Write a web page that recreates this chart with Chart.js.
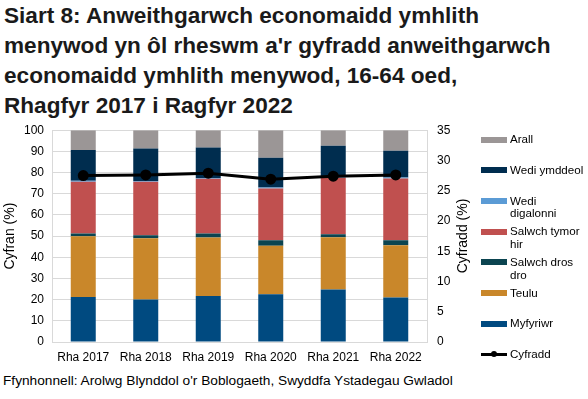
<!DOCTYPE html>
<html>
<head>
<meta charset="utf-8">
<script src="https://cdn.jsdelivr.net/npm/chart.js@4/dist/chart.umd.min.js"></script>
<style>
  html, body { margin:0; padding:0; background:#fff; }
  body { width:588px; height:399px; position:relative; overflow:hidden; font-family:"Liberation Sans", Arial, sans-serif; color:#000; }
  #title { position:absolute; left:4px; top:1px; width:600px; font-size:22.6px; font-weight:bold; line-height:30px; color:#1a1a1a; }
  #wrap { position:absolute; left:0; top:113px; width:480px; height:257px; }
  #source { position:absolute; left:3px; top:373px; font-size:13.7px; color:#000; white-space:nowrap; }
  #rtitle { position:absolute; left:462px; top:235.5px; transform:translate(-50%,-50%) rotate(-90deg); font-size:14px; white-space:nowrap; }
  #legend { position:absolute; left:480px; top:0; width:108px; }
  .lg { position:absolute; left:0; font-size:11.6px; line-height:12.5px; color:#000; }
  .lg .sw { position:absolute; left:1px; width:26px; height:6px; }
  .lg .tx { position:absolute; left:30px; white-space:nowrap; }
</style>
</head>
<body>
<div id="title">Siart 8: Anweithgarwch economaidd ymhlith<br>menywod yn ôl rheswm a'r gyfradd anweithgarwch<br>economaidd ymhlith menywod, 16-64 oed,<br>Rhagfyr 2017 i Ragfyr 2022</div>
<div id="wrap"><canvas id="chart"></canvas></div>
<div id="rtitle">Cyfradd (%)</div>
<div id="legend"></div>
<div id="source">Ffynhonnell: Arolwg Blynddol o'r Boblogaeth, Swyddfa Ystadegau Gwladol</div>
<script>
  const labels = ['Rha 2017','Rha 2018','Rha 2019','Rha 2020','Rha 2021','Rha 2022'];

  // canrannau (%) – echel chwith
  const myfyriwr      = [21.2, 20.1, 21.7, 22.6, 24.8, 21.0];
  const teulu         = [28.7, 28.9, 27.6, 22.9, 24.7, 24.7];
  const salwchDros    = [1.3, 1.4, 1.9, 2.5, 1.4, 2.3];
  const salwchTymor   = [24.5, 25.3, 25.9, 24.5, 26.7, 29.2];
  const wediDigalonni = [0.4, 0.3, 0.3, 0.5, 0.3, 0.5];
  const wediYmddeol   = [14.6, 15.4, 14.4, 14.0, 14.7, 12.6];
  const arall         = [9.3, 8.6, 8.2, 13.0, 7.4, 9.7];

  // cyfradd anweithgarwch (%) – echel dde
  const cyfradd = [27.5, 27.6, 27.9, 26.9, 27.4, 27.6];

  const leftTicks  = [0,10,20,30,40,50,60,70,80,90,100];
  const rightTicks = [0,5,10,15,20,25,30,35];

  const bar = (label, data, color) => ({
    type:'bar', label, data, backgroundColor:color, yAxisID:'y',
    stack:'s', barPercentage:0.4, categoryPercentage:1, order:2
  });

  const datasets = [
    bar('Myfyriwr', myfyriwr, '#004A80'),
    bar('Teulu', teulu, '#C9872A'),
    bar('Salwch dros dro', salwchDros, '#0B4450'),
    bar('Salwch tymor hir', salwchTymor, '#C0504F'),
    bar('Wedi digalonni', wediDigalonni, '#5B9BD5'),
    bar('Wedi ymddeol', wediYmddeol, '#002D4F'),
    bar('Arall', arall, '#9B9696'),
    { type:'line', label:'Cyfradd', data:cyfradd, yAxisID:'y1', borderColor:'#000', backgroundColor:'#000',
      borderWidth:3, pointRadius:4, pointHoverRadius:4, tension:0, order:1 }
  ];

  const tickFont = { family:'"Liberation Sans", Arial, sans-serif', size:12 };
  const gridCol = '#D9D9D9';

  new Chart(document.getElementById('chart'), {
    data: { labels, datasets },
    options: {
      responsive:true, maintainAspectRatio:false, animation:false,
      layout:{ padding:0 },
      plugins:{ legend:{ display:false }, tooltip:{ enabled:false } },
      scales:{
        x:{
          stacked:true,
          grid:{ display:false, drawTicks:false },
          border:{ color:gridCol },
          ticks:{ color:'#000', font:tickFont, padding:8, maxRotation:0, autoSkip:false },
          afterFit: s => { s.height = 28; }
        },
        y:{
          position:'left', stacked:true, min:0, max:100,
          afterBuildTicks: s => { s.ticks = leftTicks.map(v => ({ value:v })); },
          grid:{ color:gridCol, drawTicks:false },
          border:{ color:gridCol },
          ticks:{ color:'#000', font:tickFont, padding:8 },
          title:{ display:true, text:'Cyfran (%)', color:'#000', font:{...tickFont, size:14}, padding:{ top:2, bottom:0 } },
          afterFit: s => { s.width = 52; }
        },
        y1:{
          position:'right', min:0, max:35,
          afterBuildTicks: s => { s.ticks = rightTicks.map(v => ({ value:v })); },
          grid:{ display:false, drawTicks:false },
          border:{ color:gridCol },
          ticks:{ color:'#000', font:tickFont, padding:10 },
          afterFit: s => { s.width = 53; }
        }
      }
    }
  });

  // chwedl HTML, yn y drefn wrthdro fel yn y gwreiddiol
  const legendItems = [
    ['Arall', '#9B9696'],
    ['Wedi ymddeol', '#002D4F'],
    ['Wedi<br>digalonni', '#5B9BD5'],
    ['Salwch tymor<br>hir', '#C0504F'],
    ['Salwch dros<br>dro', '#0B4450'],
    ['Teulu', '#C9872A'],
    ['Myfyriwr', '#004A80'],
    ['Cyfradd', null]
  ];
  const lg = document.getElementById('legend');
  legendItems.forEach(([txt, col], i) => {
    const cy = 139.5 + i * 30.7;
    const d = document.createElement('div');
    d.className = 'lg';
    d.style.top = (cy - 6.25) + 'px';
    const sw = col
      ? `<div class="sw" style="top:3.25px;background:${col}"></div>`
      : `<div class="sw" style="top:4.75px;height:3px;background:#000"></div><div style="position:absolute;left:11px;top:3.25px;width:6px;height:6px;border-radius:3px;background:#000"></div>`;
    d.innerHTML = sw + `<div class="tx">${txt}</div>`;
    lg.appendChild(d);
  });
</script>
</body>
</html>
